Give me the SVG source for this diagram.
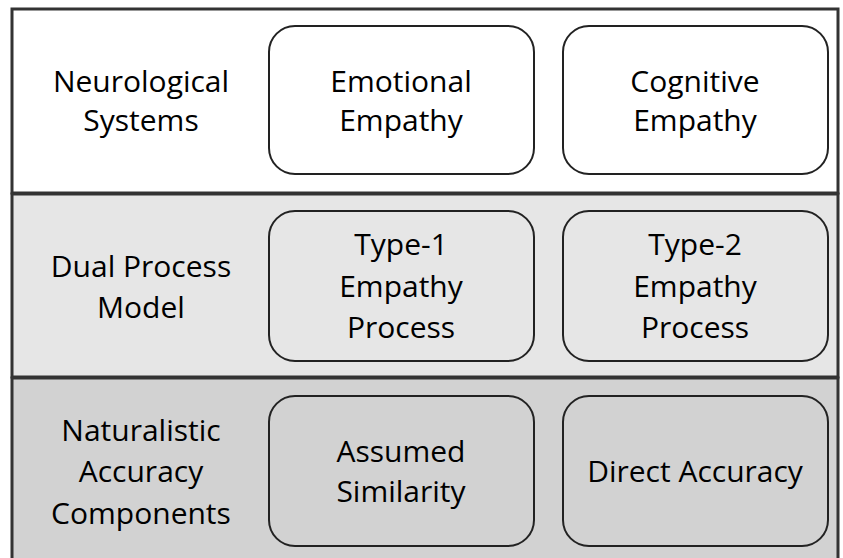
<svg xmlns="http://www.w3.org/2000/svg" width="843" height="558" viewBox="0 0 843 558">
<style>
.band{stroke:#333;stroke-width:3}
.box{stroke:#222;stroke-width:2}
text{font-family:"Open Sans","Noto Sans",sans-serif;font-size:30px;fill:#000;text-anchor:middle}
</style>
<rect width="843" height="558" fill="#ffffff"/>
<g id="band-neuro">
<rect class="band" x="12" y="9" width="826" height="184" fill="#ffffff"/>
<text x="141" y="92">Neurological</text>
<text x="141" y="131">Systems</text>
</g>
<g id="band-dual">
<rect class="band" x="12" y="194" width="826" height="183" fill="#e6e6e6"/>
<text x="141" y="277">Dual Process</text>
<text x="141" y="318">Model</text>
</g>
<g id="band-nat">
<rect class="band" x="12" y="378" width="826" height="190" fill="#d2d2d2"/>
<text x="141" y="441">Naturalistic</text>
<text x="141" y="482">Accuracy</text>
<text x="141" y="524">Components</text>
</g>
<g id="emotional">
<rect class="box" x="269" y="26" width="265" height="148" rx="26" fill="#ffffff"/>
<text x="401" y="92">Emotional</text>
<text x="401" y="131">Empathy</text>
</g>
<g id="cognitive">
<rect class="box" x="563" y="26" width="265" height="148" rx="26" fill="#ffffff"/>
<text x="695" y="92">Cognitive</text>
<text x="695" y="131">Empathy</text>
</g>
<g id="type1">
<rect class="box" x="269" y="211" width="265" height="150" rx="26" fill="#e6e6e6"/>
<text x="401" y="255">Type-1</text>
<text x="401" y="297">Empathy</text>
<text x="401" y="338">Process</text>
</g>
<g id="type2">
<rect class="box" x="563" y="211" width="265" height="150" rx="26" fill="#e6e6e6"/>
<text x="695" y="255">Type-2</text>
<text x="695" y="297">Empathy</text>
<text x="695" y="338">Process</text>
</g>
<g id="assumed">
<rect class="box" x="269" y="396" width="265" height="150" rx="26" fill="#d2d2d2"/>
<text x="401" y="462">Assumed</text>
<text x="401" y="502">Similarity</text>
</g>
<g id="direct">
<rect class="box" x="563" y="396" width="265" height="150" rx="26" fill="#d2d2d2"/>
<text x="695" y="482">Direct Accuracy</text>
</g>
<g id="connectors"></g>
</svg>
